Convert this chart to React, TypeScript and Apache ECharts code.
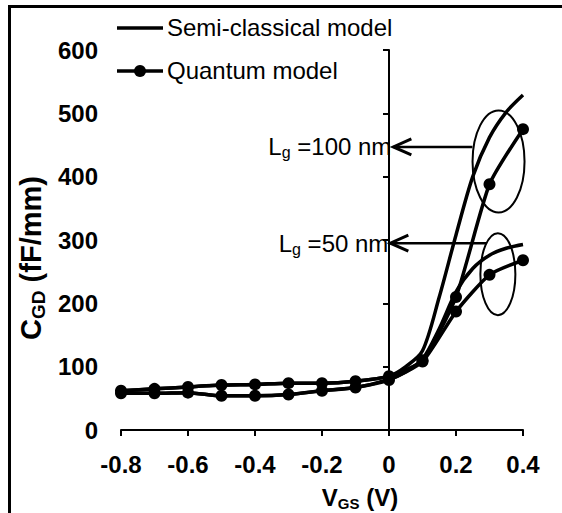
import React, { useEffect, useRef } from 'react';
import * as echarts from 'echarts';

// ---- Data ----
const vgsQuantum = [-0.8, -0.7, -0.6, -0.5, -0.4, -0.3, -0.2, -0.1, 0, 0.1, 0.2, 0.3, 0.4];
const quantum100 = [62, 65, 68, 71, 72, 74, 74, 77, 85, 110, 210, 388, 475];
const quantum50 = [58, 58, 59, 54, 54, 56, 62, 67, 79, 108, 187, 245, 268];

const vgsSemi = [-0.8, -0.7, -0.6, -0.5, -0.4, -0.3, -0.2, -0.1, 0, 0.05, 0.1, 0.15, 0.2, 0.25, 0.3, 0.35, 0.4];
const semi100 = [62, 65, 68, 71, 72, 74, 74, 77, 85, 100, 125, 210, 308, 400, 462, 502, 529];
const semi50 = [58, 58, 59, 54, 54, 56, 62, 67, 80, 92, 112, 160, 218, 255, 276, 287, 293];

const legendNames = ['Semi-classical model', 'Quantum model'];
const annotation100 = { label: '=100 nm', ellipse: [0.327, 424], arrowFrom: [0.249, 447], arrowTo: [0.013, 447] };
const annotation50 = { label: '=50 nm', ellipse: [0.325, 246], arrowFrom: [0.29, 295], arrowTo: [0.004, 295] };

const FONT = '"Liberation Sans", Arial, Helvetica, sans-serif';

const zip = (xs: number[], ys: number[]) => xs.map((x, i) => [x, ys[i]]);

export default function App() {
  const ref = useRef<HTMLDivElement>(null);
  useEffect(() => {
    if (!ref.current) return;
    const chart = echarts.init(ref.current, null, { renderer: 'svg' });
    const lineStyle = { color: '#000', width: 3.5 };
    const option: any = {
      animation: false,
      backgroundColor: '#fff',
      grid: { left: 121, right: 39, top: 50, bottom: 83 },
      xAxis: {
        type: 'value',
        min: -0.8,
        max: 0.4,
        interval: 0.2,
        axisLine: { onZero: false, lineStyle: { color: '#000', width: 2 } },
        axisTick: { show: true, length: 6, lineStyle: { color: '#000', width: 2 } },
        splitLine: { show: false },
        axisLabel: {
          margin: 22,
          fontFamily: FONT,
          fontSize: 24,
          fontWeight: 'bold',
          color: '#000',
          formatter: (v: number) => String(Number(v.toFixed(1))),
        },
      },
      yAxis: {
        type: 'value',
        min: 0,
        max: 600,
        interval: 100,
        axisLine: { show: true, lineStyle: { color: '#000', width: 2 } },
        axisTick: { show: true, length: 6, lineStyle: { color: '#000', width: 2 } },
        splitLine: { show: false },
        axisLabel: {
          margin: 23,
          fontFamily: FONT,
          fontSize: 24,
          fontWeight: 'bold',
          color: '#000',
        },
      },
      series: [
        {
          name: legendNames[0],
          type: 'line',
          data: zip(vgsSemi, semi100),
          symbol: 'none',
          smooth: 0.3,
          lineStyle,
          itemStyle: { color: '#000' },
        },
        {
          name: legendNames[0],
          type: 'line',
          data: zip(vgsSemi, semi50),
          symbol: 'none',
          smooth: 0.3,
          lineStyle,
          itemStyle: { color: '#000' },
        },
        {
          name: legendNames[1],
          type: 'line',
          data: zip(vgsQuantum, quantum100),
          symbol: 'circle',
          symbolSize: 12,
          smooth: 0.2,
          lineStyle,
          itemStyle: { color: '#000' },
        },
        {
          name: legendNames[1],
          type: 'line',
          data: zip(vgsQuantum, quantum50),
          symbol: 'circle',
          symbolSize: 12,
          smooth: 0.2,
          lineStyle,
          itemStyle: { color: '#000' },
        },
      ],
    };
    chart.setOption(option);

    const px = (pt: number[]) => chart.convertToPixel({ gridIndex: 0 }, pt) as number[];
    const annot = (a: any, rx: number, ry: number) => {
      const c = px(a.ellipse);
      const f = px(a.arrowFrom);
      const t = px(a.arrowTo);
      return [
        {
          type: 'ellipse',
          shape: { cx: c[0], cy: c[1], rx, ry },
          style: { fill: 'none', stroke: '#000', lineWidth: 2 },
          z: 100,
        },
        {
          type: 'line',
          shape: { x1: f[0], y1: f[1], x2: t[0], y2: t[1] },
          style: { stroke: '#000', lineWidth: 2.5 },
          z: 100,
        },
        {
          type: 'polyline',
          shape: { points: [[t[0] + 18, t[1] - 8], [t[0], t[1]], [t[0] + 18, t[1] + 8]] },
          style: { stroke: '#000', lineWidth: 3, fill: 'none' },
          z: 100,
        },
        {
          type: 'text',
          x: t[0] - 2,
          y: t[1],
          style: {
            text: '{n|L}{s|g}{n| ' + a.label + '}',
            align: 'right',
            verticalAlign: 'middle',
            fill: '#000',
            rich: {
              n: { fontFamily: FONT, fontSize: 24, fill: '#000', lineHeight: 28 },
              s: { fontFamily: FONT, fontSize: 16, fill: '#000', padding: [12, 0, 0, 0] },
            },
          },
          z: 100,
        },
      ];
    };

    const legendRow = (y: number, name: string, marker: boolean) => {
      const items: any[] = [
        {
          type: 'line',
          shape: { x1: 117, y1: y, x2: 163, y2: y },
          style: { stroke: '#000', lineWidth: 3.5 },
        },
        {
          type: 'text',
          x: 167,
          y: y - 1,
          style: {
            text: name,
            fontFamily: FONT,
            fontSize: 24,
            fill: '#000',
            align: 'left',
            verticalAlign: 'middle',
          },
        },
      ];
      if (marker) {
        items.push({
          type: 'circle',
          shape: { cx: 140, cy: y, r: 6 },
          style: { fill: '#000' },
        });
      }
      return items;
    };

    chart.setOption({
      graphic: [
        {
          type: 'polyline',
          shape: { points: [[9.5, 513], [9.5, 6.5], [562, 6.5]] },
          style: { stroke: '#000', lineWidth: 3, fill: 'none' },
        },
        ...legendRow(28, legendNames[0], false),
        ...legendRow(71, legendNames[1], true),
        ...annot(annotation100, 26, 51),
        ...annot(annotation50, 17.5, 41),
        {
          type: 'text',
          x: 31,
          y: 258,
          rotation: Math.PI / 2,
          style: {
            text: '{b|C}{s|GD}{b| (fF/mm)}',
            align: 'center',
            verticalAlign: 'middle',
            fill: '#000',
            rich: {
              b: { fontFamily: FONT, fontSize: 29, fontWeight: 'bold', fill: '#000', lineHeight: 34 },
              s: { fontFamily: FONT, fontSize: 19, fontWeight: 'bold', fill: '#000', padding: [14, 0, 0, 0] },
            },
          },
        },
        {
          type: 'text',
          x: 360,
          y: 497,
          style: {
            text: '{b|V}{s|GS}{b| (V)}',
            align: 'center',
            verticalAlign: 'middle',
            fill: '#000',
            rich: {
              b: { fontFamily: FONT, fontSize: 24, fontWeight: 'bold', fill: '#000', lineHeight: 28 },
              s: { fontFamily: FONT, fontSize: 15, fontWeight: 'bold', fill: '#000', padding: [12, 0, 0, 0] },
            },
          },
        },
      ],
    });

    return () => chart.dispose();
  }, []);
  return (
    <div
      ref={ref}
      style={{ position: 'fixed', left: 0, top: 0, width: 562, height: 513, background: '#fff' }}
    />
  );
}
